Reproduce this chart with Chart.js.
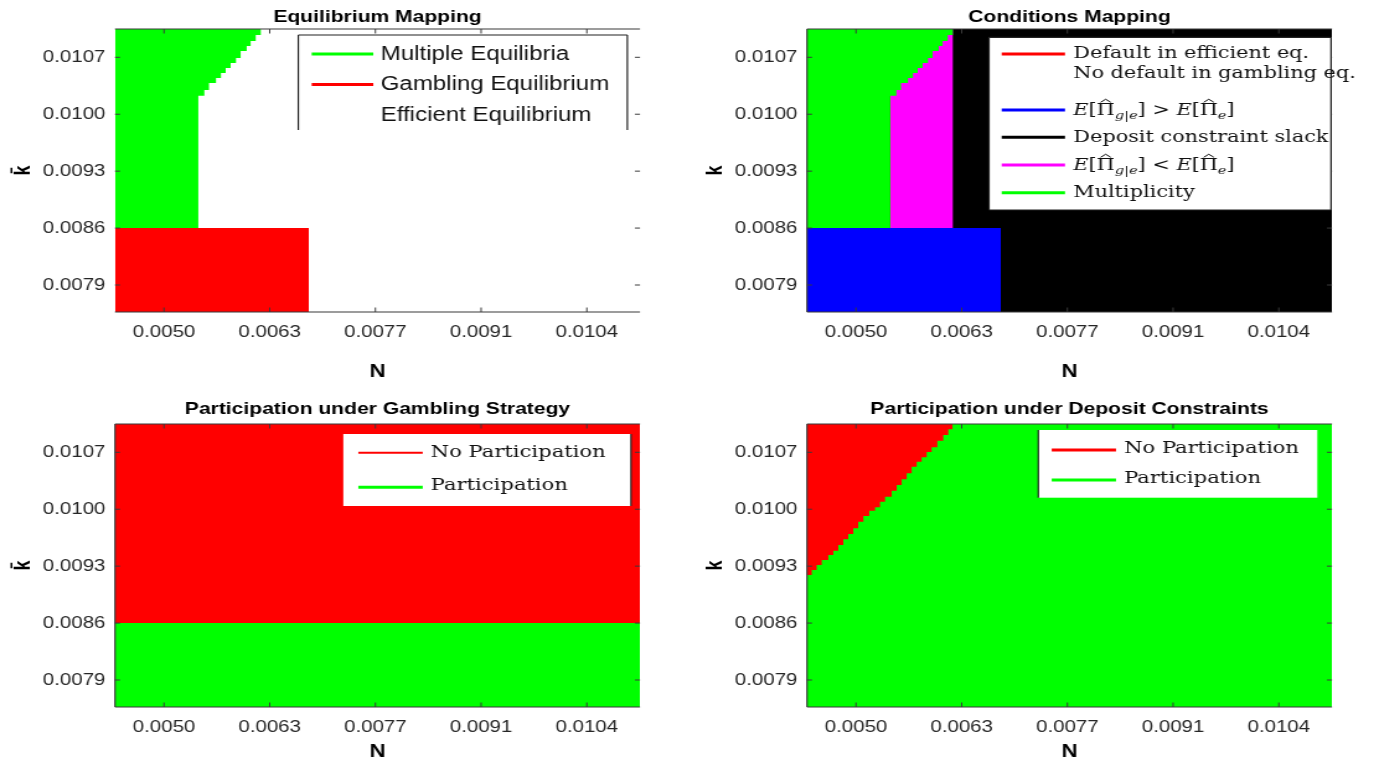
<!DOCTYPE html>
<html><head><meta charset="utf-8">
<script src="https://cdn.jsdelivr.net/npm/chart.js@4.4.1/dist/chart.umd.min.js"></script>
<style>
html,body{margin:0;padding:0;background:#fff;width:1377px;height:760px;overflow:hidden;position:relative;}
.panel{position:absolute;transform-origin:0 0;transform:scaleX(1.24);}
canvas{display:block;}
</style></head><body>
<div class="panel" style="left:0px;top:0px"><canvas id="c1" width="555" height="392"></canvas></div>
<div class="panel" style="left:692px;top:0px"><canvas id="c2" width="555" height="392"></canvas></div>
<div class="panel" style="left:0px;top:392px"><canvas id="c3" width="555" height="372"></canvas></div>
<div class="panel" style="left:692px;top:392px"><canvas id="c4" width="555" height="372"></canvas></div>
<script>
const S = 1.24; // horizontal stretch of the original figure

// ---- axes ----
const N_MIN = 0.004372, N_MAX = 0.011102;
const K_MIN = 0.007568, K_MAX = 0.011048;
const N_TICKS = [0.005000, 0.006355, 0.007710, 0.009065, 0.010420];
const N_TICK_LABELS = ['0.0050', '0.0063', '0.0077', '0.0091', '0.0104'];
const K_TICKS = [0.0079, 0.0086, 0.0093, 0.0100, 0.0107];
const K_TICK_LABELS = ['0.0079', '0.0086', '0.0093', '0.0100', '0.0107'];

// ---- region boundaries ----
const K_SPLIT = 0.0086;          // below: gambling equilibrium / participation
const N_GAMBLE_EDGE = 0.006856;  // right edge of the gambling region
const N_MULTI_EDGE = 0.005440;   // vertical edge of the multiplicity band
const N_SLACK_EDGE = 0.006245;   // deposit constraint slack to the right (k > K_SPLIT)

// lower boundary of the multiplicity region (stepped, from the left edge)
const MULTI_N = [N_MIN, 0.005440, 0.005517, 0.005577, 0.005667, 0.005731, 0.005791, 0.005855,
                 0.005923, 0.005983, 0.006060, 0.006111, 0.006176, 0.006245];
const MULTI_K = [0.0086, 0.010228, 0.010298, 0.010384, 0.010445, 0.010507, 0.010568, 0.010630,
                 0.010691, 0.010778, 0.010839, 0.010901, 0.010974, K_MAX];

// lower boundary of "no participation" under deposit constraints (stepped)
const NOPART_N = [N_MIN, 0.004432, 0.004496, 0.004560, 0.004645, 0.004709, 0.004773, 0.004837,
                  0.004901, 0.004965, 0.005029, 0.005094, 0.005170, 0.005244, 0.005308, 0.005372,
                  0.005458, 0.005522, 0.005586, 0.005650, 0.005714, 0.005778, 0.005842, 0.005906,
                  0.005970, 0.006042, 0.006119, 0.006183, 0.006240];
const NOPART_K = [0.009191, 0.009252, 0.009314, 0.009375, 0.009437, 0.009489, 0.009560, 0.009630,
                  0.009695, 0.009765, 0.009846, 0.009916, 0.009982, 0.010023, 0.010092, 0.010154,
                  0.010228, 0.010298, 0.010368, 0.010442, 0.010523, 0.010584, 0.010640, 0.010705,
                  0.010762, 0.010843, 0.010913, 0.010983, K_MAX];

const GREEN = '#00ff00', RED = '#ff0000', BLUE = '#0000ff', BLACK = '#000000', MAGENTA = '#ff00ff';

function zip(xs, ys) { return xs.map((x, i) => ({ x: x, y: ys[i] })); }
function band(x0, x1, y) { return [{ x: x0, y: y }, { x: x1, y: y }]; }
function region(points, color, fill, order, stepped) {
  return { type: 'line', data: points, backgroundColor: color, borderColor: 'rgba(0,0,0,0)',
           borderWidth: 0, pointRadius: 0, pointHoverRadius: 0, fill: fill, order: order,
           stepped: stepped ? 'before' : false, tension: 0 };
}

const SANS = 'Liberation Sans, Arial, sans-serif';
const SERIF = 'DejaVu Serif, serif';

// ---- overlay plugin: title, frame, inward ticks, legend ----
const overlay = {
  id: 'overlay',
  afterDatasetsDraw(chart, args, o) {
    const ctx = chart.ctx, a = chart.chartArea;
    const xs = chart.scales.x, ys = chart.scales.y;
    ctx.save();
    ctx.strokeStyle = '#3a3a3a';
    ctx.lineWidth = 1.2;
    ctx.beginPath();
    ctx.moveTo(a.left, a.top); ctx.lineTo(a.right, a.top);
    ctx.moveTo(a.left, a.bottom); ctx.lineTo(a.right, a.bottom);
    if (o.leftLine) { ctx.moveTo(a.left, a.top); ctx.lineTo(a.left, a.bottom); }
    ctx.stroke();
    ctx.lineWidth = 1;
    ctx.beginPath();
    N_TICKS.forEach(v => {
      const p = xs.getPixelForValue(v);
      ctx.moveTo(p, a.top); ctx.lineTo(p, a.top + 4.5);
      ctx.moveTo(p, a.bottom); ctx.lineTo(p, a.bottom - 4.5);
    });
    K_TICKS.forEach(v => {
      const p = ys.getPixelForValue(v);
      ctx.moveTo(a.left, p); ctx.lineTo(a.left + 5 / S, p);
      ctx.moveTo(a.right, p); ctx.lineTo(a.right - 5 / S, p);
    });
    ctx.stroke();
    ctx.restore();
  },
  afterDraw(chart, args, o) {
    const ctx = chart.ctx, a = chart.chartArea;
    ctx.save();
    // title
    ctx.fillStyle = '#000';
    ctx.font = 'bold 17px ' + SANS;
    ctx.textAlign = 'center';
    ctx.textBaseline = 'middle';
    ctx.fillText(o.title, (a.left + a.right) / 2, 17);
    // legend
    const L = o.legend;
    const bx0 = L.box[0] / S, by0 = L.box[1], bx1 = L.box[2] / S, by1 = L.box[3];
    ctx.fillStyle = '#fff';
    ctx.fillRect(bx0, by0, bx1 - bx0, by1 - by0);
    ctx.strokeStyle = '#222';
    ctx.lineWidth = 1.2;
    ctx.beginPath();
    if (L.sides.includes('top')) { ctx.moveTo(bx0, by0); ctx.lineTo(bx1, by0); }
    if (L.sides.includes('bottom')) { ctx.moveTo(bx0, by1); ctx.lineTo(bx1, by1); }
    if (L.sides.includes('left')) { ctx.moveTo(bx0, by0); ctx.lineTo(bx0, by1); }
    if (L.sides.includes('right')) { ctx.moveTo(bx1, by0); ctx.lineTo(bx1, by1); }
    ctx.stroke();
    L.items.forEach(it => {
      if (it.color) {
        ctx.strokeStyle = it.color;
        ctx.lineWidth = it.lw || 3;
        ctx.beginPath();
        ctx.moveTo(L.lineX[0] / S, it.y); ctx.lineTo(L.lineX[1] / S, it.y);
        ctx.stroke();
      }
      ctx.fillStyle = '#111';
      ctx.textAlign = 'left';
      ctx.textBaseline = 'middle';
      let x = L.textX / S;
      const segs = it.segs || [{ t: it.text }];
      segs.forEach(sg => {
        const size = sg.sub ? L.size * 0.7 : L.size;
        ctx.font = (sg.it ? 'italic ' : '') + size + 'px ' + L.family;
        ctx.fillText(sg.t, x, it.ty + (sg.sub ? L.size * 0.3 : 0));
        const w = ctx.measureText(sg.t).width;
        if (sg.hat) {
          const cx = x + w / 2, top = it.ty - L.size * 0.52;
          ctx.strokeStyle = '#111';
          ctx.lineWidth = 1;
          ctx.beginPath();
          ctx.moveTo(cx - w * 0.28, top);
          ctx.lineTo(cx, top - 3);
          ctx.lineTo(cx + w * 0.28, top);
          ctx.stroke();
        }
        x += w;
      });
    });
    ctx.restore();
  }
};

function mathSegs(rel) {
  return [{ t: 'E', it: true }, { t: '[' }, { t: 'Π', hat: true }, { t: 'g|e', it: true, sub: true }, { t: ']' },
          { t: ' ' + rel + ' ' }, { t: 'E', it: true }, { t: '[' }, { t: 'Π', hat: true }, { t: 'e', it: true, sub: true }, { t: ']' }];
}

function makeChart(id, datasets, cfg) {
  const tickFont = { family: SANS, size: 16.5, lineHeight: 1.2 };
  const labFont = { family: SANS, size: 18, weight: 'bold', lineHeight: 1.2 };
  return new Chart(document.getElementById(id), {
    type: 'line',
    data: { datasets: datasets },
    options: {
      responsive: false, animation: false, devicePixelRatio: 1,
      events: [],
      layout: { padding: { left: 0, right: 555 - 640 / S, top: cfg.padTop, bottom: 0 } },
      plugins: {
        legend: { display: false }, tooltip: { enabled: false }, title: { display: false },
        overlay: { title: cfg.title, legend: cfg.legend, leftLine: cfg.leftLine }
      },
      scales: {
        x: {
          type: 'linear', min: N_MIN, max: N_MAX,
          afterBuildTicks: s => { s.ticks = N_TICKS.map(v => ({ value: v })); },
          afterFit: s => { s.height = cfg.xAxisH; },
          ticks: { autoSkip: false, maxRotation: 0, minRotation: 0, padding: 10.6, color: '#262626',
                   font: tickFont, callback: (v, i) => N_TICK_LABELS[i] },
          grid: { display: false, drawTicks: false }, border: { display: false },
          title: { display: true, text: 'N', color: '#000', font: labFont, padding: { top: 0, bottom: cfg.nPad } }
        },
        y: {
          type: 'linear', min: K_MIN, max: K_MAX,
          afterBuildTicks: s => { s.ticks = K_TICKS.map(v => ({ value: v })); },
          afterFit: s => { s.width = 115 / S; },
          ticks: { autoSkip: false, padding: 7.7, color: '#262626', font: tickFont,
                   callback: (v, i) => K_TICK_LABELS[i] },
          grid: { display: false, drawTicks: false }, border: { display: false },
          title: { display: true, text: cfg.kLabel, color: '#000', font: labFont, padding: { top: 8, bottom: 0 } }
        }
      }
    },
    plugins: [overlay]
  });
}

// Panel 1: Equilibrium Mapping
makeChart('c1', [
  region(zip(MULTI_N, MULTI_K), GREEN, 'end', 1, true),
  region(band(N_MIN, N_GAMBLE_EDGE, K_SPLIT), RED, 'start', 2, false)
], {
  title: 'Equilibrium Mapping', kLabel: 'k\u0304', padTop: 29, xAxisH: 80, nPad: 8.7, leftLine: false,
  legend: {
    box: [298.3, 35, 627.3, 130], sides: ['top', 'left', 'right'], lineX: [311.7, 373.3], textX: 380.7,
    family: SANS, size: 19.4,
    items: [
      { color: GREEN, y: 54, ty: 55, text: 'Multiple Equilibria' },
      { color: RED, y: 84.5, ty: 85, text: 'Gambling Equilibrium' },
      { color: null, ty: 116, text: 'Efficient Equilibrium' }
    ]
  }
});

// Panel 2: Conditions Mapping
makeChart('c2', [
  region(band(N_MIN, N_GAMBLE_EDGE, K_SPLIT), BLUE, 'start', 1, false),
  region(zip(MULTI_N, MULTI_K), GREEN, 'end', 2, true),
  region(band(N_MULTI_EDGE, N_SLACK_EDGE, K_SPLIT), MAGENTA, 'end', 3, false),
  region(band(N_MIN, N_MAX, K_MAX), BLACK, 'start', 4, false)
], {
  title: 'Conditions Mapping', kLabel: 'k', padTop: 29, xAxisH: 80, nPad: 8.7, leftLine: true,
  legend: {
    box: [297, 37.3, 639, 210], sides: ['top', 'left', 'right', 'bottom'], lineX: [309.7, 373], textX: 381.3,
    family: SERIF, size: 16.8,
    items: [
      { color: RED, y: 54, ty: 53.5, text: 'Default in efficient eq.' },
      { color: null, ty: 74, text: 'No default in gambling eq.' },
      { color: BLUE, y: 110, ty: 111, segs: mathSegs('>') },
      { color: BLACK, y: 137.3, ty: 137.5, text: 'Deposit constraint slack' },
      { color: MAGENTA, y: 165, ty: 166, segs: mathSegs('<') },
      { color: GREEN, y: 192.7, ty: 192.5, text: 'Multiplicity' }
    ]
  }
});

// Panel 3: Participation under Gambling Strategy
makeChart('c3', [
  region(band(N_MIN, N_MAX, K_SPLIT), RED, 'end', 1, false),
  region(band(N_MIN, N_MAX, K_SPLIT), GREEN, 'start', 2, false)
], {
  title: 'Participation under Gambling Strategy', kLabel: 'k\u0304', padTop: 32, xAxisH: 57, nPad: 1.2, leftLine: true,
  legend: {
    box: [343.3, 42, 631, 114], sides: ['right'], lineX: [358.3, 422.7], textX: 430.7,
    family: SERIF, size: 17,
    items: [
      { color: RED, y: 60.7, ty: 60.5, lw: 2, text: 'No Participation' },
      { color: GREEN, y: 95.3, ty: 93.8, text: 'Participation' }
    ]
  }
});

// Panel 4: Participation under Deposit Constraints
makeChart('c4', [
  region(zip(NOPART_N, NOPART_K), RED, 'end', 1, true),
  region(band(N_MIN, N_MAX, K_MAX), GREEN, 'start', 2, false)
], {
  title: 'Participation under Deposit Constraints', kLabel: 'k', padTop: 32, xAxisH: 57, nPad: 1.2, leftLine: true,
  legend: {
    box: [346.3, 38, 625.3, 105.7], sides: ['left'], lineX: [359.7, 424], textX: 432,
    family: SERIF, size: 17,
    items: [
      { color: RED, y: 58, ty: 56.3, text: 'No Participation' },
      { color: GREEN, y: 88, ty: 86.3, text: 'Participation' }
    ]
  }
});
</script>
</body></html>
